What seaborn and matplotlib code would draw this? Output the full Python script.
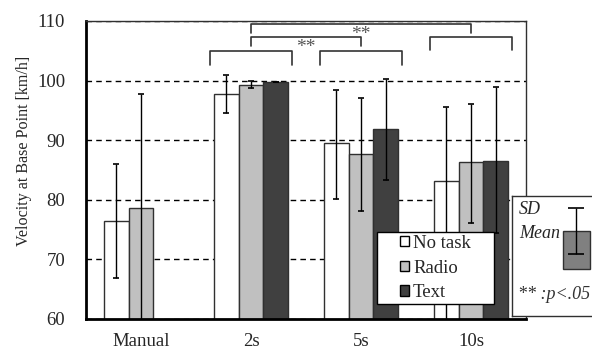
import numpy as np
import pandas as pd
import matplotlib
matplotlib.use("Agg")
import matplotlib.pyplot as plt
from matplotlib.patches import Rectangle
import seaborn as sns

# %% data
groups = ["Manual", "2s", "5s", "10s"]
tasks = ["No task", "Radio", "Text"]
no_task_mean = [76.4, 97.7, 89.5, 83.2]
radio_mean = [78.6, 99.3, 87.7, 86.3]
text_mean = [np.nan, 99.7, 91.9, 86.5]
# SD (lower / upper whisker length)
no_task_sd_low = [9.6, 3.2, 9.4, 23.5]
no_task_sd_high = [9.6, 3.2, 9.0, 12.3]
radio_sd_low = [19.2, 0.5, 9.6, 10.2]
radio_sd_high = [19.2, 0.6, 9.3, 9.8]
text_sd_low = [np.nan, 0.0, 8.6, 12.1]
text_sd_high = [np.nan, 0.0, 8.4, 12.4]

# significance brackets: (group a, group b, label)
within_groups = [1, 2, 3]
between = [(1, 2, "**"), (1, 3, "**")]

# legend key box
key_mean = 1.0
key_sd = 0.6

colors = {"No task": "#ffffff", "Radio": "#c0c0c0", "Text": "#404040"}

rows = []
for task, m, lo, hi in zip(tasks,
                           [no_task_mean, radio_mean, text_mean],
                           [no_task_sd_low, radio_sd_low, text_sd_low],
                           [no_task_sd_high, radio_sd_high, text_sd_high]):
    for g, mv, l, h in zip(groups, m, lo, hi):
        if not np.isnan(mv):
            rows.append({"group": g, "task": task, "mean": mv, "lo": l, "hi": h})
df = pd.DataFrame(rows)

# %%
sns.set_style("white")
serif = ["Liberation Serif", "DejaVu Serif"]
plt.rcParams["font.family"] = serif

fig = plt.figure(figsize=(5.92, 3.52), dpi=100)
ax = fig.add_axes([86 / 592, 1 - 319 / 352, 440 / 592, 298 / 352])

sns.barplot(data=df, x="group", y="mean", hue="task", order=groups,
            hue_order=tasks, palette=colors, saturation=1, width=0.67,
            edgecolor="#303030", linewidth=1, errorbar=None, ax=ax, zorder=2)

ax.set_ylim(60, 110)
ax.set_xlim(-0.5, 3.5)
ax.set_yticks([60, 70, 80, 90, 100, 110])
ax.yaxis.grid(True, color="black", linestyle=(0, (4, 3)), linewidth=1)
ax.set_axisbelow(True)
ax.tick_params(axis="both", length=0, labelsize=13.5)
ax.tick_params(axis="y", pad=15)
ax.tick_params(axis="x", pad=10)
ax.set_xlabel("")
ax.set_ylabel("Velocity at Base Point [km/h]", fontsize=11.6)
ax.yaxis.set_label_coords(-0.122, 0.564)
for s in ["left", "bottom"]:
    ax.spines[s].set_linewidth(2)
    ax.spines[s].set_color("black")
for s in ["top", "right"]:
    ax.spines[s].set_linewidth(1)
    ax.spines[s].set_color("#303030")

# error bars placed at the drawn bar centres
bar_containers = list(ax.containers)
for container in bar_containers:
    for patch in container:
        xc = patch.get_x() + patch.get_width() / 2
        gi = int(round(xc))
        for _, r in df[df.group == groups[gi]].iterrows():
            if np.isclose(r["mean"], patch.get_height()):
                ax.errorbar(xc, r["mean"], yerr=[[r["lo"]], [r["hi"]]],
                            fmt="none", ecolor="black", elinewidth=1,
                            capsize=2.4, capthick=1.2, zorder=3)

# brackets
bc = "#333333"
half = 0.37
for g in within_groups:
    top = 107.3 if g == 3 else 104.9
    ax.plot([g - half, g - half, g + half, g + half],
            [top - 2.2, top, top, top - 2.2], color=bc, lw=1.2, zorder=4)
for (a, b, lab), top in zip(between, [107.3, 109.5]):
    ax.plot([a, a, b, b], [top - 1.5, top, top, top - 1.5], color=bc, lw=1.2,
            zorder=4)
    ax.text((a + b) / 2, top - 1.7, lab, ha="center", va="center",
            fontsize=14, color="#555555")

# legend: white box behind a frameless legend
ax.add_patch(Rectangle((0.661, 0.05), 0.266, 0.242, transform=ax.transAxes,
                       facecolor="white", edgecolor="black", linewidth=1,
                       zorder=4.9))
handles, labels = ax.get_legend_handles_labels()
leg = ax.legend(handles, labels, loc="center",
                bbox_to_anchor=(0.661 + 0.133, 0.05 + 0.121),
                prop={"family": serif, "size": 13.5}, frameon=False,
                handlelength=0.5, handleheight=0.5, handletextpad=0.2,
                labelspacing=0.42, borderpad=0, borderaxespad=0)
leg.set_zorder(5)
leg._legend_box.align = "left"
for h in leg.legend_handles:
    h.set_edgecolor("black")
    h.set_linewidth(1)

# SD / Mean key box
kax = fig.add_axes([512 / 592, 1 - 316 / 352, 100 / 592, 120 / 352], zorder=5)
kax.set_xlim(0, 100 / 88)
kax.set_ylim(0, 3.15)
kax.set_xticks([])
kax.set_yticks([])
kax.set_facecolor("white")
for s in kax.spines.values():
    s.set_linewidth(1)
    s.set_color("#303030")
kax.bar([0.73], [key_mean], bottom=1.24, width=0.31, color="#808080",
        edgecolor="#303030", linewidth=1)
kax.errorbar([0.73], [1.24 + key_mean], yerr=[key_sd], fmt="none",
             ecolor="black", elinewidth=1, capsize=6, capthick=1.2)
kax.text(0.07, 0.885, "SD", transform=kax.transAxes, fontsize=13,
         style="italic", va="center")
kax.text(0.07, 0.69, "Mean", transform=kax.transAxes, fontsize=13,
         style="italic", va="center")
kax.text(0.06, 0.18, "** :p<.05", transform=kax.transAxes, fontsize=13,
         style="italic", va="center", color="#333333")

fig.savefig("out.png", dpi=100)
